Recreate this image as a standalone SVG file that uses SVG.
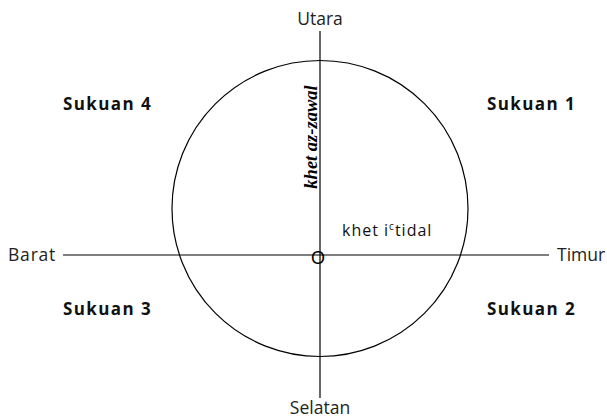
<svg xmlns="http://www.w3.org/2000/svg" width="607" height="419" viewBox="0 0 607 419">
<style>
.ln{stroke:#000;stroke-width:1.2;fill:none}
.dir{font-family:"Open Sans","Liberation Sans",sans-serif;font-size:17.5px;fill:#222}
.q{font-family:"Open Sans","Liberation Sans",sans-serif;font-size:17px;font-weight:bold;letter-spacing:1.4px;fill:#111}
.lbl{font-family:"Open Sans","Liberation Sans",sans-serif;font-size:16px;letter-spacing:1px;fill:#111}
</style>
<rect width="607" height="419" fill="#fff"/>
<g id="connectors">
<line class="ln" x1="320" y1="31" x2="320" y2="398"/>
<line class="ln" x1="63" y1="255" x2="549" y2="255"/>
</g>
<g id="circle"><circle class="ln" cx="320" cy="208.5" r="148"/></g>
<g id="utara"><text class="dir" x="320" y="25" text-anchor="middle">Utara</text></g>
<g id="selatan"><text class="dir" x="320" y="414" text-anchor="middle">Selatan</text></g>
<g id="barat"><text class="dir" x="8" y="261" letter-spacing="0.8">Barat</text></g>
<g id="timur"><text class="dir" x="557" y="261">Timur</text></g>
<g id="sukuan4"><text class="q" x="63" y="110">Sukuan 4</text></g>
<g id="sukuan1"><text class="q" x="487" y="110">Sukuan 1</text></g>
<g id="sukuan3"><text class="q" x="63" y="315">Sukuan 3</text></g>
<g id="sukuan2"><text class="q" x="487" y="315">Sukuan 2</text></g>
<g id="khet-itidal"><text class="lbl" x="342" y="236">khet i<tspan font-size="10" dy="-6">c</tspan><tspan dy="6">tidal</tspan></text></g>
<g id="khet-azzawal"><text x="0" y="0" transform="translate(317 137) rotate(-90)" text-anchor="middle" font-family="Liberation Serif,serif" font-style="italic" font-weight="bold" font-size="18.5">khet az-zawal</text></g>
<g id="origin"><text x="318" y="263.5" text-anchor="middle" font-family="Liberation Sans,sans-serif" font-size="18">O</text></g>
</svg>
